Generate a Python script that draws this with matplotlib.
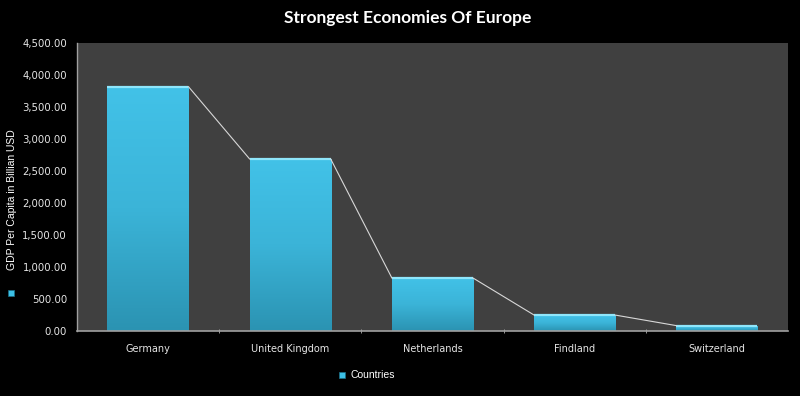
import numpy as np
import matplotlib
matplotlib.use("Agg")
import matplotlib.pyplot as plt
from matplotlib.colors import LinearSegmentedColormap
from matplotlib.patches import Rectangle

countries = ["Germany", "United Kingdom", "Netherlands", "Findland", "Switzerland"]
gdp = [3820, 2690, 830, 250, 85]
yticks = [0, 500, 1000, 1500, 2000, 2500, 3000, 3500, 4000, 4500]

BG = "#000000"
PLOT_BG = "#404040"
BAR_W = 0.57

fig = plt.figure(figsize=(8, 3.96), dpi=100, facecolor=BG)
ax = fig.add_axes([0.096, 0.164, 0.889, 0.727])
ax.set_facecolor(PLOT_BG)

x = np.arange(len(countries))
ax.set_xlim(-0.5, len(countries) - 0.5)
ax.set_ylim(0, 4500)

# gradient bars: lighter cyan on top, darker toward the base
cmap = LinearSegmentedColormap.from_list("bar", ["#2b93b2", "#3bb4d8", "#42c2e8"])
grad = np.linspace(0, 1, 256).reshape(-1, 1)
for xi, v in zip(x, gdp):
    left = xi - BAR_W / 2
    im = ax.imshow(grad, cmap=cmap, origin="lower", aspect="auto",
                   extent=(left, left + BAR_W, 0, v), zorder=2)
    rect = Rectangle((left, 0), BAR_W, v, facecolor="none", edgecolor="none", zorder=2)
    ax.add_patch(rect)
    im.set_clip_path(rect)
    # bevel highlight on top edge
    ax.plot([left, left + BAR_W], [v, v], color="#8fe6fb", lw=1.6, zorder=3,
            solid_capstyle="butt")

# series lines between bars
for i in range(len(gdp) - 1):
    ax.plot([x[i] + BAR_W / 2, x[i + 1] - BAR_W / 2], [gdp[i], gdp[i + 1]],
            color="#d8d8d8", lw=0.8, zorder=4)

ax.set_xticks(x)
ax.set_xticklabels(countries, fontsize=7, color="#e6e6e6")
ax.set_xticks(np.arange(0.5, len(countries) - 1, 1), minor=True)
ax.tick_params(axis="x", which="major", length=0, pad=9)
ax.tick_params(axis="x", which="minor", length=3, direction="inout", color="#b0b0b0")

ax.set_yticks(yticks)
ax.set_yticklabels([f"{v:,.2f}" for v in yticks], fontsize=7.3, color="#e6e6e6")
ax.tick_params(axis="y", length=0, pad=7)

for side in ["top", "right"]:
    ax.spines[side].set_visible(False)
ax.spines["bottom"].set_color("#a0a0a0")
ax.spines["left"].set_color("#a0a0a0")
ax.spines["bottom"].set_linewidth(1.2)
ax.spines["left"].set_linewidth(1.0)

fig.text(0.51, 0.955, "Strongest Economies Of Europe", ha="center", va="center",
         fontsize=12.5, fontweight="bold", color="white", family="Lato")

fig.text(0.015, 0.497, "GDP Per Capita in Billian USD", rotation=90, ha="center",
         va="center", fontsize=7.5, color="white", family="Liberation Sans")
fig.patches.append(Rectangle((0.0105, 0.253), 0.0075, 0.015, transform=fig.transFigure,
                             facecolor="#3cc0e6", edgecolor="#1a6f88", lw=0.5))

fig.patches.append(Rectangle((0.424, 0.046), 0.0075, 0.015, transform=fig.transFigure,
                             facecolor="#3cc0e6", edgecolor="#1a6f88", lw=0.5))
fig.text(0.438, 0.053, "Countries", ha="left", va="center", fontsize=7.5,
         color="white", family="Liberation Sans")

fig.savefig("out.png", dpi=100, facecolor=BG)
